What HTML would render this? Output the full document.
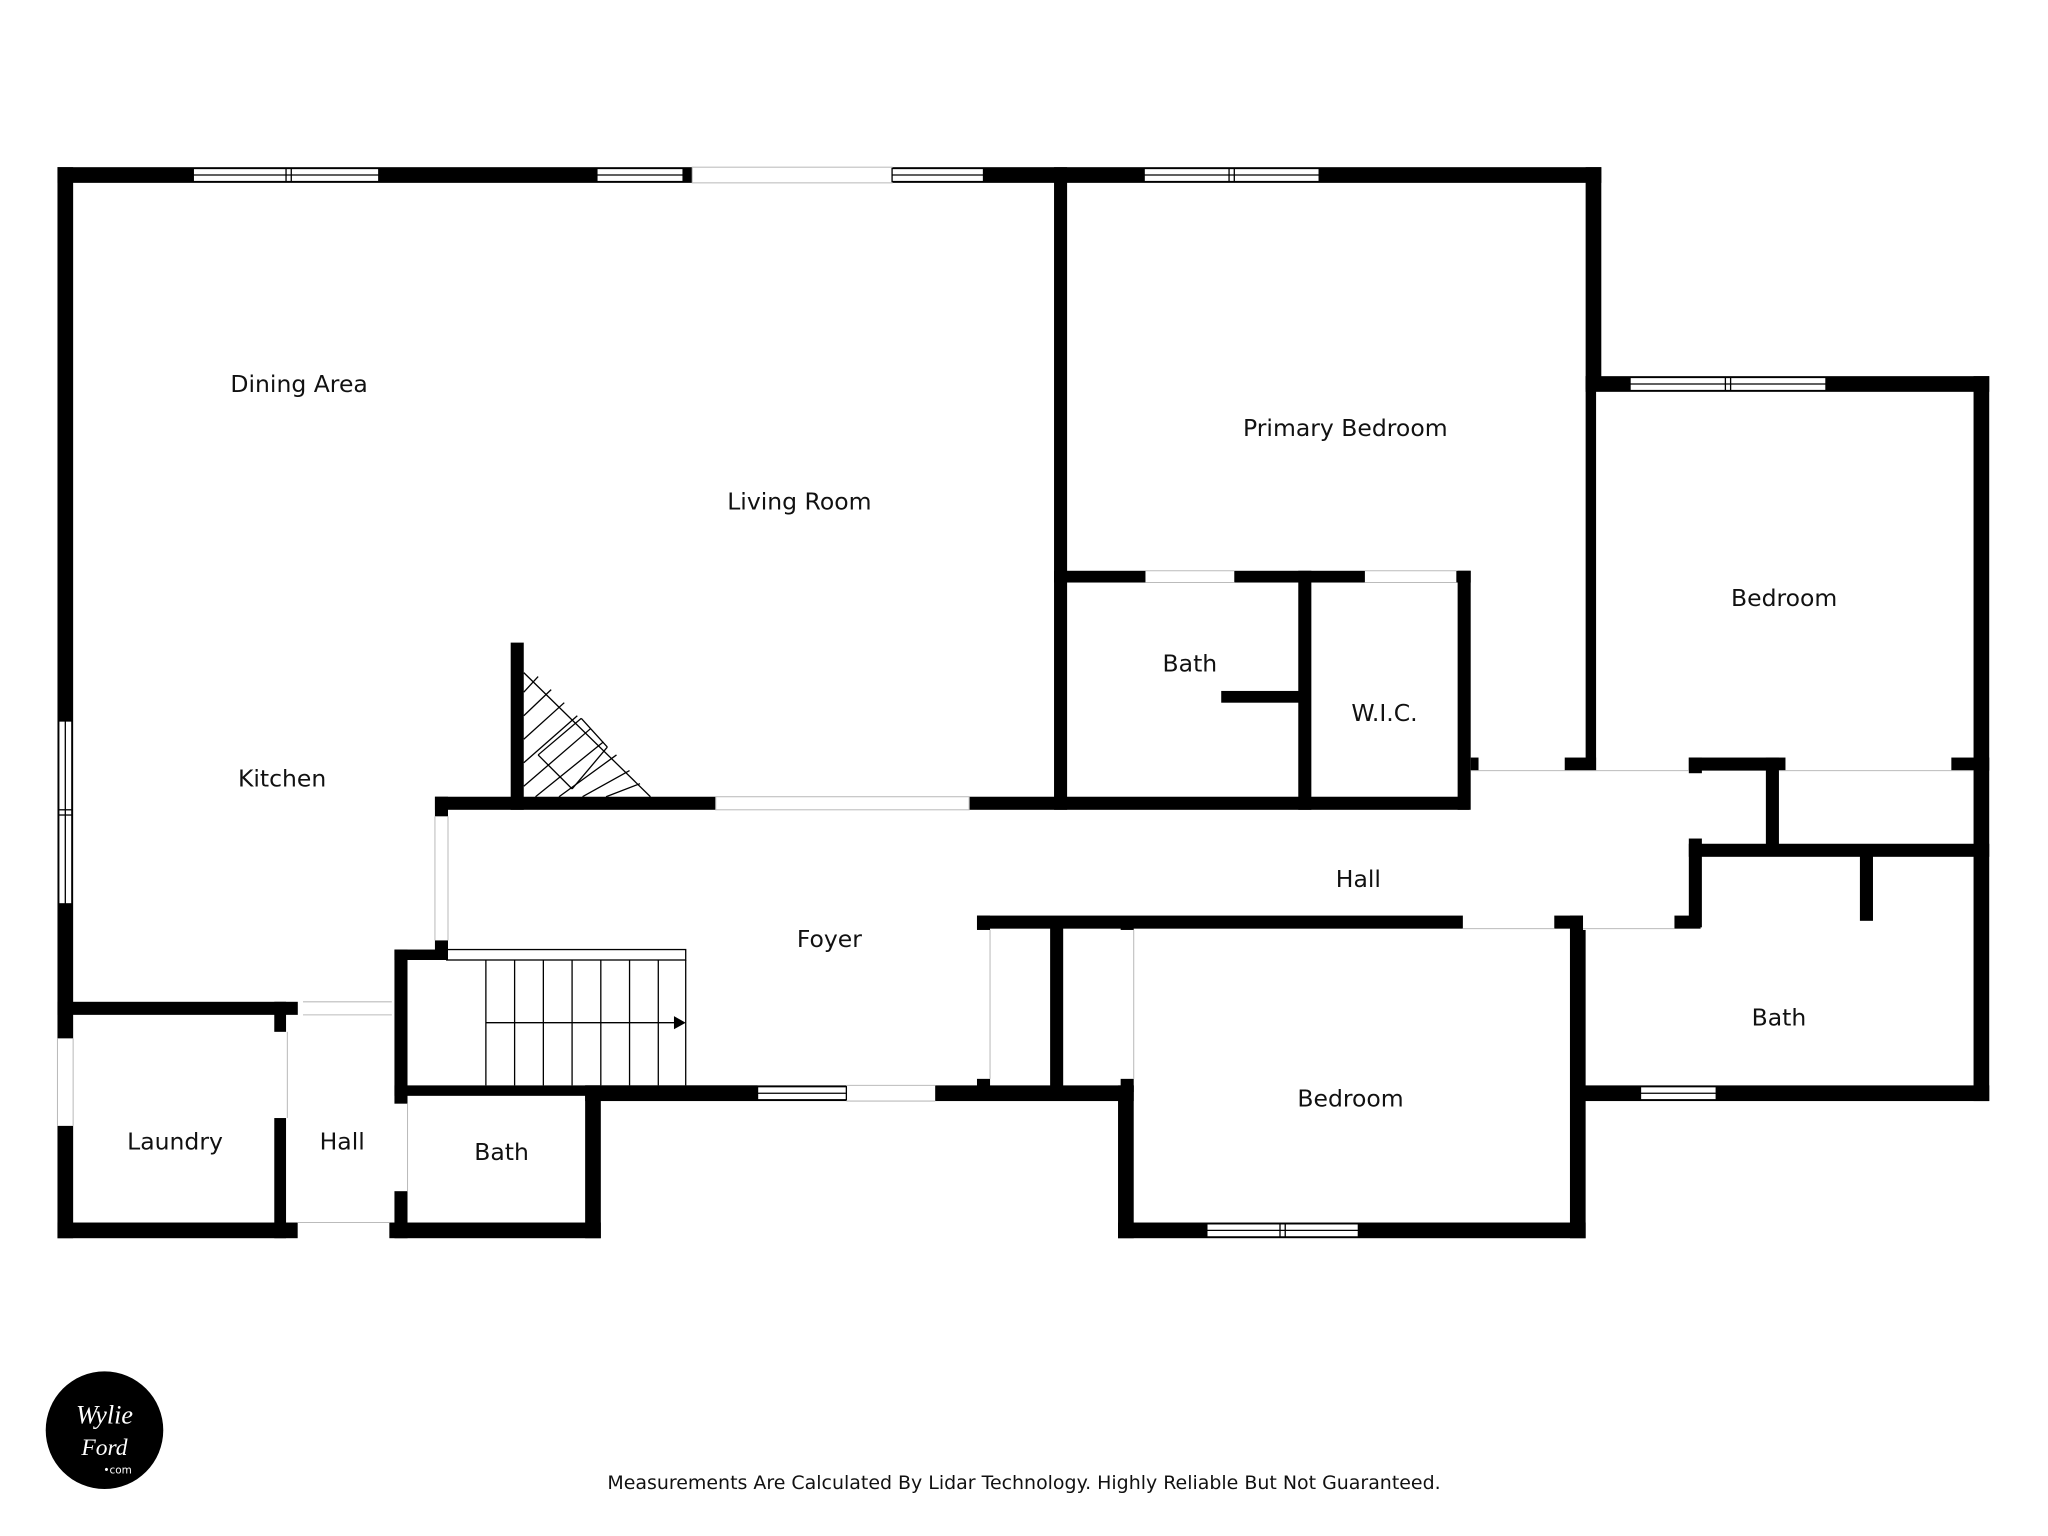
<!DOCTYPE html>
<html><head><meta charset="utf-8"><style>
html,body{margin:0;padding:0;background:#fff;}
svg{display:block;}
text{font-family:"DejaVu Sans","Liberation Sans",sans-serif;fill:#111;}
</style></head><body>
<svg width="2048" height="1536" viewBox="0 0 1568 1176" xmlns="http://www.w3.org/2000/svg">
<rect width="1568" height="1176" fill="#fff"/>
<g fill="#000">
<rect x="44" y="128" width="1182" height="12"/>
<rect x="44" y="128" width="12" height="820"/>
<rect x="1214" y="128" width="12" height="170"/>
<rect x="1214" y="288" width="309" height="12"/>
<rect x="1214" y="288" width="8" height="302"/>
<rect x="1511" y="288" width="12" height="555"/>
<rect x="1206" y="831" width="317" height="12"/>
<rect x="1202" y="701" width="12" height="247"/>
<rect x="856" y="831" width="12" height="117"/>
<rect x="856" y="936" width="358" height="12"/>
<rect x="448" y="831" width="420" height="12"/>
<rect x="448" y="831" width="12" height="117"/>
<rect x="298" y="936" width="162" height="12"/>
<rect x="44" y="936" width="184" height="12"/>
<rect x="44" y="767" width="184" height="10"/>
<rect x="210" y="767" width="9" height="181"/>
<rect x="302" y="727" width="10" height="221"/>
<rect x="302" y="727" width="40" height="8"/>
<rect x="302" y="831" width="278" height="8"/>
<rect x="333" y="610" width="10" height="125"/>
<rect x="333" y="610" width="792" height="10"/>
<rect x="391" y="492" width="10" height="128"/>
<rect x="807" y="128" width="10" height="492"/>
<rect x="807" y="437" width="319" height="9"/>
<rect x="1116" y="437" width="10" height="183"/>
<rect x="994" y="437" width="10" height="183"/>
<rect x="935" y="529" width="65" height="9"/>
<rect x="1126" y="580" width="6" height="10"/>
<rect x="1198" y="580" width="24" height="10"/>
<rect x="1293" y="580" width="74" height="10"/>
<rect x="1494" y="580" width="29" height="10"/>
<rect x="1352" y="580" width="10" height="72"/>
<rect x="1293" y="646" width="230" height="10"/>
<rect x="1293" y="580" width="10" height="130"/>
<rect x="748" y="701" width="554" height="10"/>
<rect x="1424" y="652" width="10" height="53"/>
<rect x="748" y="701" width="10" height="135"/>
<rect x="804" y="706" width="10" height="130"/>
<rect x="858" y="706" width="10" height="130"/>
</g>
<g fill="#fff">
<rect x="530" y="127" width="153" height="14"/>
<rect x="548" y="609" width="194" height="12"/>
<rect x="43" y="795" width="14" height="67"/>
<rect x="209" y="790" width="11" height="66"/>
<rect x="232" y="766" width="68" height="12"/>
<rect x="228" y="935" width="70" height="14"/>
<rect x="301" y="845" width="12" height="67"/>
<rect x="332" y="625" width="12" height="95"/>
<rect x="648" y="830" width="68" height="14"/>
<rect x="877" y="436" width="68" height="11"/>
<rect x="1045" y="436" width="70" height="11"/>
<rect x="1120" y="700" width="70" height="12"/>
<rect x="1212" y="700" width="70" height="12"/>
<rect x="1292" y="592" width="12" height="50"/>
<rect x="747" y="712" width="12" height="114"/>
<rect x="857" y="712" width="12" height="114"/>
</g>
<g fill="none" stroke="#bbb" stroke-width="0.8">
<rect x="530" y="128" width="153" height="12"/>
<rect x="548" y="610" width="194" height="10"/>
<line x1="44" y1="795" x2="44" y2="862"/><line x1="56" y1="795" x2="56" y2="862"/>
<line x1="232" y1="767" x2="300" y2="767"/><line x1="232" y1="777" x2="300" y2="777"/>
<line x1="333" y1="625" x2="333" y2="720"/><line x1="343" y1="625" x2="343" y2="720"/>
<line x1="648" y1="831" x2="716" y2="831"/><line x1="648" y1="843" x2="716" y2="843"/>
<line x1="877" y1="437" x2="945" y2="437"/><line x1="877" y1="446" x2="945" y2="446"/>
<line x1="1045" y1="437" x2="1115" y2="437"/><line x1="1045" y1="446" x2="1115" y2="446"/>
<line x1="1126" y1="590" x2="1293" y2="590"/>
<line x1="1362" y1="590" x2="1511" y2="590"/>
<line x1="1120" y1="711" x2="1190" y2="711"/><line x1="1212" y1="711" x2="1282" y2="711"/>
<line x1="758" y1="712" x2="758" y2="826"/><line x1="868" y1="712" x2="868" y2="826"/>
<line x1="220" y1="790" x2="220" y2="856"/>
<line x1="312" y1="845" x2="312" y2="912"/>
<line x1="228" y1="936" x2="298" y2="936"/>
</g>
<g fill="#fff" stroke="#000" stroke-width="1">
<rect x="148" y="129" width="142" height="10"/>
<rect x="457" y="129" width="66" height="10"/>
<rect x="683" y="129" width="70" height="10"/>
<rect x="876" y="129" width="134" height="10"/>
<rect x="1248" y="289" width="150" height="10"/>
<rect x="45" y="552" width="10" height="140"/>
<rect x="1256" y="832" width="58" height="10"/>
<rect x="580" y="832" width="68" height="10"/>
<rect x="924" y="937" width="116" height="10"/>
</g>
<g stroke="#000" stroke-width="1">
<line x1="148" y1="134" x2="290" y2="134"/><line x1="219" y1="129" x2="219" y2="139"/><line x1="223" y1="129" x2="223" y2="139"/>
<line x1="457" y1="134" x2="523" y2="134"/>
<line x1="683" y1="134" x2="753" y2="134"/>
<line x1="876" y1="134" x2="1010" y2="134"/><line x1="941" y1="129" x2="941" y2="139"/><line x1="945" y1="129" x2="945" y2="139"/>
<line x1="1248" y1="294" x2="1398" y2="294"/><line x1="1321" y1="289" x2="1321" y2="299"/><line x1="1325" y1="289" x2="1325" y2="299"/>
<line x1="50" y1="552" x2="50" y2="692"/><line x1="45" y1="620" x2="55" y2="620"/><line x1="45" y1="624" x2="55" y2="624"/>
<line x1="1256" y1="837" x2="1314" y2="837"/>
<line x1="580" y1="837" x2="648" y2="837"/>
<line x1="924" y1="942" x2="1040" y2="942"/><line x1="980" y1="937" x2="980" y2="947"/><line x1="984" y1="937" x2="984" y2="947"/>
</g>
<g stroke="#000" stroke-width="1" fill="none">
<rect x="342" y="727" width="183" height="8"/>
<line x1="372" y1="735" x2="372" y2="831"/>
<line x1="394" y1="735" x2="394" y2="831"/>
<line x1="416" y1="735" x2="416" y2="831"/>
<line x1="438" y1="735" x2="438" y2="831"/>
<line x1="460" y1="735" x2="460" y2="831"/>
<line x1="482" y1="735" x2="482" y2="831"/>
<line x1="504" y1="735" x2="504" y2="831"/>
<line x1="525" y1="735" x2="525" y2="831"/>
<line x1="372" y1="783" x2="518" y2="783"/>
<line x1="401" y1="515" x2="498" y2="610"/>
<line x1="401" y1="530" x2="412" y2="518"/>
<line x1="401" y1="548" x2="422" y2="528"/>
<line x1="401" y1="566" x2="432" y2="538"/>
<line x1="401" y1="584" x2="442" y2="548"/>
<line x1="401" y1="602" x2="452" y2="558"/>
<line x1="410" y1="610" x2="462" y2="568"/>
<line x1="428" y1="610" x2="472" y2="578"/>
<line x1="446" y1="610" x2="482" y2="590"/>
<line x1="464" y1="610" x2="490" y2="600"/>
<line x1="412" y1="578" x2="438" y2="604"/>
<line x1="412" y1="578" x2="445" y2="550"/>
<line x1="445" y1="550" x2="465" y2="572"/>
<line x1="465" y1="572" x2="438" y2="604"/>
</g>
<polygon points="516,778 525,783 516,788" fill="#000"/>
<g font-size="18" text-anchor="middle">
<text x="229" y="300">Dining Area</text>
<text x="612" y="390">Living Room</text>
<text x="1030" y="334">Primary Bedroom</text>
<text x="1366" y="464">Bedroom</text>
<text x="216" y="602">Kitchen</text>
<text x="911" y="514">Bath</text>
<text x="1060" y="552">W.I.C.</text>
<text x="1040" y="679">Hall</text>
<text x="635" y="725">Foyer</text>
<text x="1362" y="785">Bath</text>
<text x="1034" y="847">Bedroom</text>
<text x="134" y="880">Laundry</text>
<text x="262" y="880">Hall</text>
<text x="384" y="888">Bath</text>
</g>
<text x="784" y="1140" font-size="14" text-anchor="middle" textLength="638" lengthAdjust="spacingAndGlyphs">Measurements Are Calculated By Lidar Technology. Highly Reliable But Not Guaranteed.</text>
<circle cx="80" cy="1095" r="45" fill="#000"/>
<text x="80" y="1090" font-size="20" font-style="italic" text-anchor="middle" style="fill:#fff;font-family:'Liberation Serif',serif">Wylie</text>
<text x="80" y="1114" font-size="18" font-style="italic" text-anchor="middle" style="fill:#fff;font-family:'Liberation Serif',serif">Ford</text>
<text x="90" y="1128" font-size="8" text-anchor="middle" style="fill:#fff">•com</text>
</svg>
</body></html>
